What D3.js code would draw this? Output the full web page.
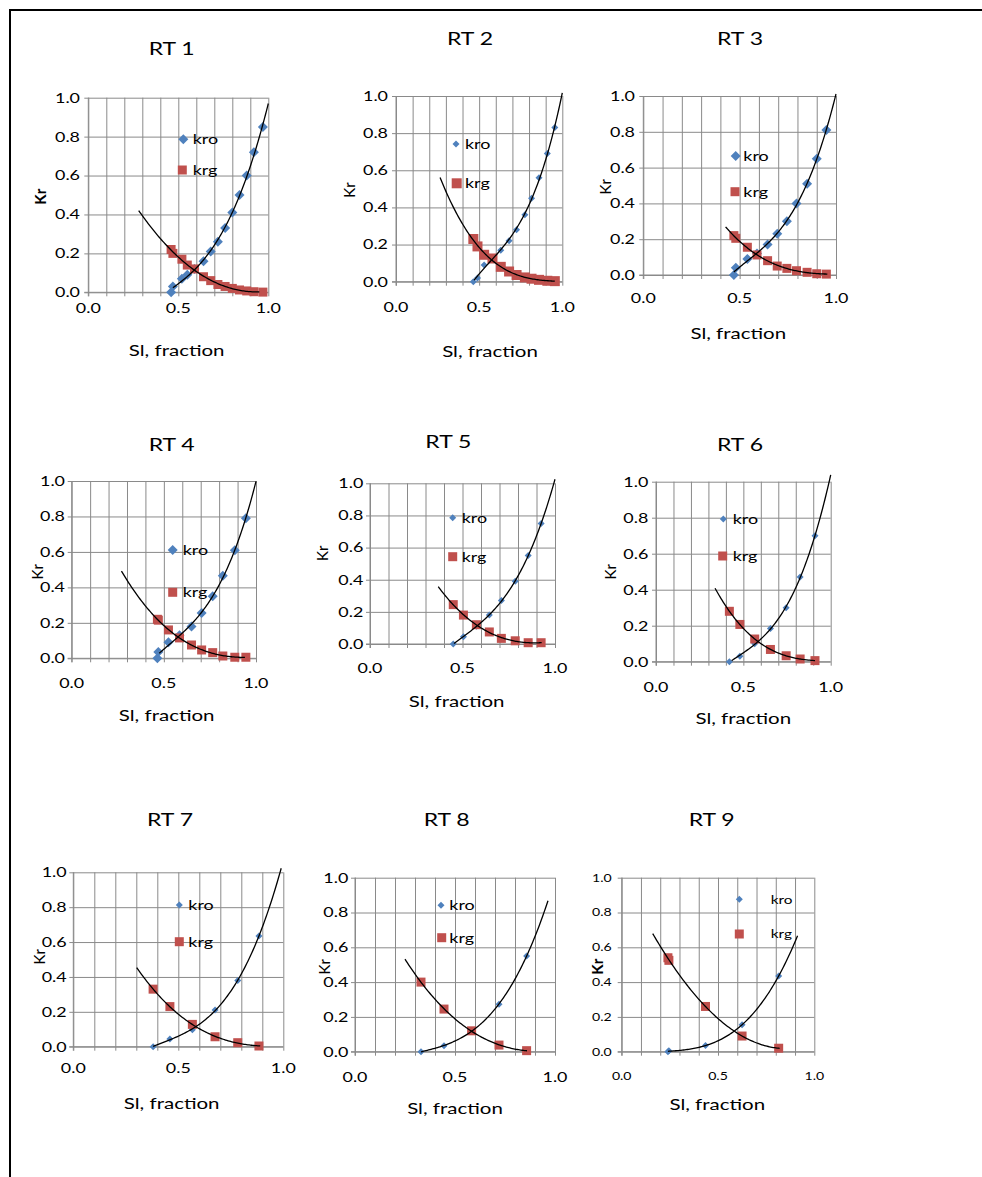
<!DOCTYPE html>
<html>
<head>
<meta charset="utf-8">
<script src="https://cdnjs.cloudflare.com/ajax/libs/d3/7.8.5/d3.min.js"></script>
<style>
  html, body { margin: 0; padding: 0; background: #fff; }
  svg { display: block; }
  text { font-family: Lato, "Open Sans", sans-serif; fill: #000; }
</style>
</head>
<body>
<svg id="chart" width="982" height="1177"></svg>
<script>
// ---------------- DATA ----------------
const titles = ["RT 1", "RT 2", "RT 3", "RT 4", "RT 5", "RT 6", "RT 7", "RT 8", "RT 9"];
const seriesNames = ["kro", "krg"];
const yTicks = [0, 0.2, 0.4, 0.6, 0.8, 1.0];
const xTicks = [0, 0.5, 1.0];
const xAxisTitle = "Sl, fraction";
const yAxisTitle = "Kr";

const sl1  = [0.46, 0.47, 0.52, 0.55, 0.59, 0.64, 0.68, 0.72, 0.76, 0.80, 0.84, 0.88, 0.92, 0.97];
const kro1 = [0.00, 0.03, 0.07, 0.09, 0.12, 0.16, 0.21, 0.26, 0.33, 0.41, 0.50, 0.60, 0.72, 0.85];
const krg1 = [0.22, 0.20, 0.17, 0.14, 0.12, 0.08, 0.06, 0.04, 0.03, 0.02, 0.012, 0.007, 0.003, 0.001];

const sl2  = [0.465, 0.49, 0.53, 0.58, 0.63, 0.68, 0.725, 0.775, 0.815, 0.86, 0.91, 0.955];
const kro2 = [0.00, 0.02, 0.09, 0.13, 0.17, 0.22, 0.28, 0.36, 0.45, 0.56, 0.69, 0.83];
const krg2 = [0.23, 0.19, 0.145, 0.125, 0.08, 0.055, 0.036, 0.023, 0.016, 0.01, 0.005, 0.003];

const sl3  = [0.47, 0.48, 0.54, 0.59, 0.645, 0.695, 0.745, 0.795, 0.85, 0.90, 0.95];
const kro3 = [0.00, 0.04, 0.09, 0.12, 0.17, 0.23, 0.30, 0.40, 0.51, 0.65, 0.81];
const krg3 = [0.22, 0.205, 0.155, 0.112, 0.08, 0.05, 0.037, 0.024, 0.015, 0.007, 0.005];

const sl4  = [0.465, 0.47, 0.525, 0.585, 0.65, 0.705, 0.765, 0.82, 0.885, 0.945];
const kro4 = [0.00, 0.035, 0.09, 0.13, 0.18, 0.255, 0.35, 0.465, 0.61, 0.79];
const krg4 = [0.22, 0.215, 0.16, 0.115, 0.075, 0.047, 0.032, 0.013, 0.006, 0.006];

const sl5  = [0.45, 0.505, 0.575, 0.645, 0.71, 0.785, 0.855, 0.925];
const kro5 = [0.00, 0.045, 0.11, 0.18, 0.27, 0.39, 0.55, 0.75];
const krg5 = [0.245, 0.18, 0.12, 0.075, 0.035, 0.02, 0.008, 0.008];

const sl6  = [0.42, 0.48, 0.565, 0.655, 0.745, 0.825, 0.91];
const kro6 = [0.00, 0.03, 0.10, 0.185, 0.30, 0.47, 0.70];
const krg6 = [0.28, 0.207, 0.126, 0.068, 0.033, 0.015, 0.006];

const sl7  = [0.38, 0.46, 0.567, 0.675, 0.783, 0.884];
const kro7 = [0.00, 0.044, 0.097, 0.21, 0.38, 0.635];
const krg7 = [0.33, 0.23, 0.128, 0.057, 0.023, 0.004];

const sl8  = [0.33, 0.445, 0.583, 0.72, 0.858];
const kro8 = [0.00, 0.034, 0.12, 0.273, 0.55];
const krg8 = [0.40, 0.245, 0.12, 0.038, 0.006];

const sl9  = [0.24, 0.245, 0.435, 0.625, 0.815];
const kro9 = [0.00, 0.005, 0.035, 0.155, 0.435];
const krg9 = [0.54, 0.525, 0.26, 0.09, 0.02];

// extent of the fitted trend lines (Sl from, Sl to)
const kroTrendRange = [[0.47,1.0],[0.47,1.0],[0.47,1.0],[0.475,1.0],[0.454,1.0],[0.433,1.0],[0.38,0.99],[0.33,0.965],[0.24,0.913]];
const krgTrendRange = [[0.28,0.95],[0.265,0.955],[0.427,0.955],[0.27,0.94],[0.369,0.928],[0.338,0.91],[0.302,0.89],[0.25,0.86],[0.161,0.82]];

const slAll  = [sl1, sl2, sl3, sl4, sl5, sl6, sl7, sl8, sl9];
const kroAll = [kro1, kro2, kro3, kro4, kro5, kro6, kro7, kro8, kro9];
const krgAll = [krg1, krg2, krg3, krg4, krg5, krg6, krg7, krg8, krg9];

// ---------------- LAYOUT (positions / styles) ----------------
const layout = [
  {l:88.3, r:268.3, t:97.7, b:292.3, tx:171.7, ty:49, ytx:80, xty:308, xtx:176.7, xtY:350, kx:40.7, ky:196.7, kb:true,
   lx1:183.3, ly1:139.3, lx2:182.3, ly2:170, ltx:192.7, dia:10, sq:9, tf:14, lf:14},
  {l:396, r:562.3, t:96, b:281.7, tx:470, ty:39, ytx:388, xty:306.7, xtx:490, xtY:351.7, kx:350, ky:190, kb:false,
   lx1:456, ly1:144, lx2:456.7, ly2:183.3, ltx:465, dia:7, sq:10, tf:14, lf:14},
  {l:643.3, r:836, t:96, b:275, tx:740, ty:38.3, ytx:635, xty:298.3, xtx:738.3, xtY:333.3, kx:606, ky:186.7, kb:false,
   lx1:735.7, ly1:156, lx2:735, ly2:191.7, ltx:743.3, dia:10, sq:9, tf:14, lf:14},
  {l:71.7, r:256, t:481, b:658.3, tx:171.7, ty:445, ytx:65, xty:683.3, xtx:166.7, xtY:715, kx:37.3, ky:571.7, kb:false,
   lx1:172.7, ly1:550, lx2:172.7, ly2:592.3, ltx:182.7, dia:10, sq:9, tf:14, lf:14},
  {l:370, r:555, t:483.3, b:644, tx:448.3, ty:441.7, ytx:363.3, xty:668.3, xtx:456.7, xtY:701.7, kx:322.7, ky:553.3, kb:false,
   lx1:452.7, ly1:517.7, lx2:452.7, ly2:556.7, ltx:461.7, dia:7, sq:9, tf:14, lf:14},
  {l:656, r:830.7, t:481.7, b:661.7, tx:740, ty:445, ytx:648.3, xty:686.7, xtx:743.3, xtY:718.3, kx:610.7, ky:571.7, kb:false,
   lx1:723.3, ly1:519, lx2:722.7, ly2:556, ltx:732.7, dia:7, sq:9, tf:14, lf:14},
  {l:73.3, r:283.3, t:872.3, b:1046.7, tx:170, ty:820, ytx:66.7, xty:1068.3, xtx:171.7, xtY:1103.3, kx:40, ky:956.7, kb:false,
   lx1:179.3, ly1:905, lx2:179.3, ly2:941.7, ltx:188.3, dia:7, sq:9, tf:14, lf:14},
  {l:355, r:555, t:877.7, b:1051.7, tx:446.7, ty:820, ytx:348.3, xty:1076.7, xtx:455, xtY:1108.3, kx:325, ky:966.7, kb:false,
   lx1:441, ly1:905.3, lx2:441.7, ly2:937.7, ltx:449.3, dia:7, sq:9, tf:14, lf:14},
  {l:621.7, r:814.3, t:877.7, b:1051.7, tx:711.7, ty:820, ytx:611.7, xty:1076, xtx:717.3, xtY:1104, kx:597.3, ky:966.7, kb:true,
   lx1:739.3, ly1:899.3, lx2:739.3, ly2:934, ltx:770.7, dia:7, sq:9, tf:11, lf:12}
];

const KRO_COLOR = "#4F81BD", KRG_COLOR = "#C0504D", GRID = "#8a8a8a";
const SX = 1.28; // horizontal stretch of the lettering in the original picture
const TREND_ORDER = 3;

// least squares polynomial fit (Excel-style polynomial trend line)
function polyfit(xs, ys, order) {
  const n = order + 1;
  const A = Array.from({length: n}, () => new Array(n + 1).fill(0));
  xs.forEach((x, k) => {
    for (let i = 0; i < n; i++) {
      for (let j = 0; j < n; j++) A[i][j] += Math.pow(x, i + j);
      A[i][n] += ys[k] * Math.pow(x, i);
    }
  });
  for (let i = 0; i < n; i++) {
    let p = i;
    for (let r = i + 1; r < n; r++) if (Math.abs(A[r][i]) > Math.abs(A[p][i])) p = r;
    [A[i], A[p]] = [A[p], A[i]];
    for (let r = 0; r < n; r++) {
      if (r === i) continue;
      const f = A[r][i] / A[i][i];
      for (let c = i; c <= n; c++) A[r][c] -= f * A[i][c];
    }
  }
  const coef = A.map((row, i) => row[n] / row[i]);
  return x => coef.reduce((s, c, i) => s + c * Math.pow(x, i), 0);
}

const svg = d3.select("#chart");

function label(parent, x, y, str, size, anchor, weight) {
  return parent.append("text")
    .attr("transform", `translate(${x},${y}) scale(${SX},1)`)
    .attr("dy", "0.35em")
    .attr("text-anchor", anchor || "start")
    .attr("font-size", size)
    .attr("font-weight", weight || "normal")
    .text(str);
}

// outer frame
svg.append("path")
  .attr("d", "M10,1177 L10,10 L982,10")
  .attr("fill", "none").attr("stroke", "#000").attr("stroke-width", 2);

layout.forEach((L, i) => {
  const sl = slAll[i], kro = kroAll[i], krg = krgAll[i];
  const x = d3.scaleLinear().domain([0, 1]).range([L.l, L.r]);
  const y = d3.scaleLinear().domain([0, 1]).range([L.b, L.t]);
  const h = L.b - L.t, w = L.r - L.l;
  const g = svg.append("g");

  // vertical grid lines every 0.1 with small outer ticks
  g.append("g").attr("transform", `translate(0,${L.b})`)
    .call(d3.axisBottom(x).tickValues(d3.range(0, 11).map(k => k / 10)).tickSize(-h).tickFormat(""))
    .call(a => a.select(".domain").remove())
    .call(a => a.selectAll(".tick line").attr("y1", 4).attr("stroke", GRID));

  // horizontal grid lines every 0.2 with small outer ticks
  g.append("g").attr("transform", `translate(${L.l},0)`)
    .call(d3.axisLeft(y).tickValues(yTicks).tickSize(-w).tickFormat(""))
    .call(a => a.select(".domain").remove())
    .call(a => a.selectAll(".tick line").attr("x1", -4).attr("stroke", GRID));

  // axis lines (left and bottom)
  g.append("line").attr("x1", L.l).attr("x2", L.l).attr("y1", L.t).attr("y2", L.b + 4).attr("stroke", GRID);
  g.append("line").attr("x1", L.l - 4).attr("x2", L.r).attr("y1", L.b).attr("y2", L.b).attr("stroke", GRID);

  // tick labels placed with the scales
  const fmt = d3.format(".1f");
  yTicks.forEach(v => label(g, L.ytx, y(v), fmt(v), L.tf, "end"));
  xTicks.forEach(v => label(g, x(v), L.xty, fmt(v), L.tf, "middle"));

  const pts = sl.map((s, k) => ({s, kro: kro[k], krg: krg[k]}));
  const diamond = d3.symbol().type(d3.symbolSquare).size(L.dia * L.dia / 2);
  const square = d3.symbol().type(d3.symbolSquare).size(L.sq * L.sq);

  // kro markers
  g.append("g").selectAll("path").data(pts).join("path")
    .attr("d", diamond)
    .attr("transform", d => `translate(${x(d.s)},${y(d.kro)}) rotate(45)`)
    .attr("fill", KRO_COLOR);
  // krg markers
  g.append("g").selectAll("path").data(pts).join("path")
    .attr("d", square)
    .attr("transform", d => `translate(${x(d.s)},${y(d.krg)})`)
    .attr("fill", KRG_COLOR);

  // trend lines (polynomial fits of the data)
  const fKro = polyfit(sl, kro, TREND_ORDER), fKrg = polyfit(sl, krg, TREND_ORDER);
  const line = d3.line().x(d => x(d[0])).y(d => y(d[1]));
  [[fKro, kroTrendRange[i]], [fKrg, krgTrendRange[i]]].forEach(([f, rng]) => {
    const xs = d3.range(0, 101).map(k => rng[0] + (rng[1] - rng[0]) * k / 100);
    g.append("path").datum(xs.map(s => [s, f(s)]))
      .attr("d", line).attr("fill", "none").attr("stroke", "#000").attr("stroke-width", 1.3);
  });

  // legend
  g.append("path").attr("d", diamond).attr("transform", `translate(${L.lx1},${L.ly1}) rotate(45)`).attr("fill", KRO_COLOR);
  g.append("path").attr("d", square).attr("transform", `translate(${L.lx2},${L.ly2})`).attr("fill", KRG_COLOR);
  label(g, L.ltx, L.ly1, seriesNames[0], L.lf);
  label(g, L.ltx, L.ly2, seriesNames[1], L.lf);

  // titles
  label(g, L.tx, L.ty, titles[i], 18, "middle");
  label(g, L.xtx, L.xtY, xAxisTitle, 16, "middle");
  g.append("text").attr("transform", `translate(${L.kx},${L.ky}) rotate(-90)`).attr("dy", "0.35em")
    .attr("text-anchor", "middle").attr("font-size", 15).attr("font-weight", L.kb ? "bold" : "normal").text(yAxisTitle);
});
</script>
</body>
</html>
